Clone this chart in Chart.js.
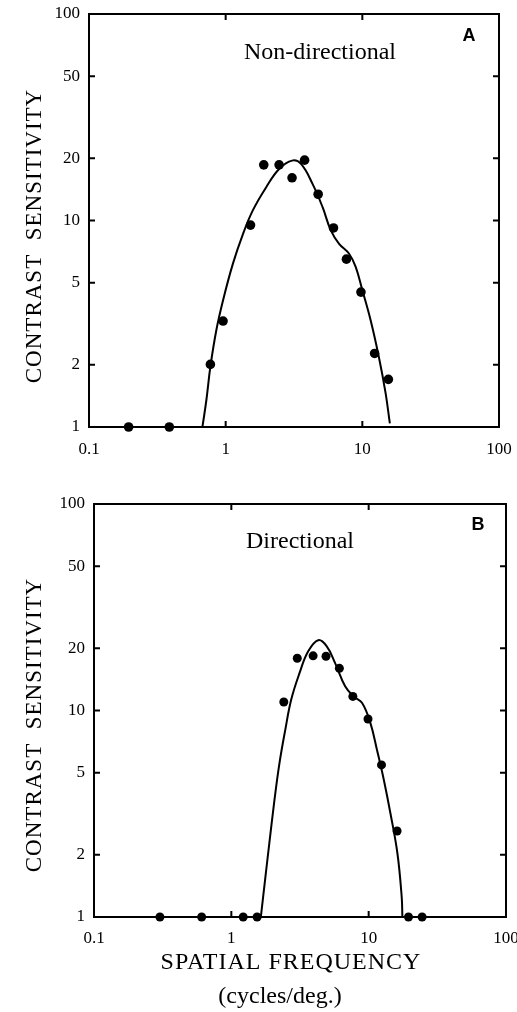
<!DOCTYPE html>
<html>
<head>
<meta charset="utf-8">
<script src="https://cdn.jsdelivr.net/npm/chart.js@4"></script>
<style>
  body { margin: 0; background: #fff; overflow: hidden; }
  #wrap { position: relative; width: 517px; height: 1012px; overflow: hidden; }
  canvas { position: absolute; left: 0; }
</style>
</head>
<body>
<div id="wrap">
  <canvas id="chartA" width="560" height="462" style="top:0"></canvas>
  <canvas id="chartB" width="560" height="532" style="top:480px"></canvas>
</div>
<script>
// tick values
const xTicks = [0.1, 1, 10, 100];
const yTicks = [1, 2, 5, 10, 20, 50, 100];

// A: non-directional, measured points
const nondirFreq = [0.195, 0.387, 0.773, 0.957, 1.52, 1.90, 2.46, 3.06, 3.78, 4.75, 6.15, 7.65, 9.77, 12.3, 15.5];
const nondirSens = [1, 1, 2.01, 3.26, 9.5, 18.6, 18.6, 16.1, 19.6, 13.4, 9.2, 6.5, 4.5, 2.27, 1.70];
// A: fitted curve
const nondirFitFreq = [0.676, 0.723, 0.773, 0.855, 0.957, 1.13, 1.34, 1.58, 1.98, 2.47, 3.06, 3.56, 4.33, 5.12, 5.88, 6.76, 8.00, 8.94, 10.0, 11.5, 13.2, 14.8, 15.9];
const nondirFitSens = [1, 1.355, 1.96, 2.95, 4.11, 6.18, 8.62, 11.2, 14.5, 17.8, 19.5, 18.8, 15.0, 11.6, 8.95, 7.71, 6.90, 5.96, 4.60, 3.29, 2.19, 1.46, 1.04];

// B: directional, measured points
const dirFreq = [0.302, 0.608, 1.22, 1.54, 2.41, 3.02, 3.94, 4.89, 6.12, 7.67, 9.89, 12.4, 16.1, 19.5, 24.5];
const dirSens = [1, 1, 1, 1, 11.0, 17.9, 18.4, 18.3, 16.0, 11.7, 9.1, 5.45, 2.61, 1, 1];
// B: fitted curve
const dirFitFreq = [1.64, 1.76, 1.89, 2.06, 2.24, 2.47, 2.73, 3.14, 3.62, 4.29, 4.94, 5.69, 6.74, 7.76, 8.94, 10.3, 11.5, 12.9, 14.4, 16.2, 17.4, 17.6];
const dirFitSens = [1, 1.51, 2.27, 3.68, 5.55, 8.06, 11.3, 15.2, 19.3, 21.9, 20.5, 17.0, 13.1, 11.7, 10.9, 8.69, 6.44, 4.61, 3.18, 2.03, 1.25, 1];

const yTitle = 'CONTRAST  SENSITIVITY';
const xTitle = ['SPATIAL FREQUENCY', '(cycles/deg.)'];

const serif = '"Liberation Serif", "DejaVu Serif", serif';

function pairs(xs, ys) {
  return xs.map((x, i) => ({ x: x, y: ys[i] }));
}

// frame with inward ticks plus the labels
const framePlugin = {
  id: 'frame',
  afterDraw(chart, args, opts) {
    const ctx = chart.ctx;
    const a = chart.chartArea;
    const xs = chart.scales.x, ys = chart.scales.y;
    ctx.save();
    ctx.strokeStyle = '#000';
    ctx.lineWidth = 2;
    ctx.strokeRect(a.left, a.top, a.right - a.left, a.bottom - a.top);
    ctx.beginPath();
    xTicks.slice(1, -1).forEach(v => {
      const px = xs.getPixelForValue(v);
      ctx.moveTo(px, a.bottom); ctx.lineTo(px, a.bottom - 6);
      ctx.moveTo(px, a.top); ctx.lineTo(px, a.top + 6);
    });
    yTicks.slice(1, -1).forEach(v => {
      const py = ys.getPixelForValue(v);
      ctx.moveTo(a.left, py); ctx.lineTo(a.left + 6, py);
      ctx.moveTo(a.right, py); ctx.lineTo(a.right - 6, py);
    });
    ctx.stroke();

    ctx.fillStyle = '#000';
    ctx.textAlign = 'center';
    ctx.textBaseline = 'middle';
    ctx.font = 'bold 18px "Liberation Sans", Arial, sans-serif';
    ctx.fillText(opts.letter, opts.letterPos[0], opts.letterPos[1]);
    ctx.font = '24px ' + serif;
    ctx.fillText(opts.label, opts.labelPos[0], opts.labelPos[1]);

    ctx.save();
    ctx.translate(opts.yTitlePos[0], opts.yTitlePos[1]);
    ctx.rotate(-Math.PI / 2);
    ctx.font = '23px ' + serif;
    ctx.letterSpacing = '1px';
    ctx.fillText(yTitle, 0, 0);
    ctx.restore();

    if (opts.xTitlePos) {
      ctx.font = '24px ' + serif;
      ctx.letterSpacing = '1px';
      ctx.fillText(xTitle[0], opts.xTitlePos[0], opts.xTitlePos[1]);
      ctx.letterSpacing = '0px';
      ctx.fillText(xTitle[1], opts.xTitlePos[0] - 11, opts.xTitlePos[1] + 34);
    }
    ctx.restore();
  }
};

function makePanel(id, pts, fit, g) {
  new Chart(document.getElementById(id), {
    type: 'scatter',
    data: {
      datasets: [
        {
          data: fit,
          showLine: true,
          borderColor: '#000',
          borderWidth: 2,
          pointRadius: 0,
          tension: 0.4,
          fill: false
        },
        {
          data: pts,
          pointRadius: g.dot,
          pointBackgroundColor: '#000',
          pointBorderColor: '#000',
          pointBorderWidth: 0,
          clip: false
        }
      ]
    },
    options: {
      responsive: false,
      animation: false,
      layout: { padding: { top: g.top, right: g.right, left: 0, bottom: 0 } },
      plugins: {
        legend: { display: false },
        tooltip: { enabled: false },
        frame: g.frame
      },
      scales: {
        x: {
          type: 'logarithmic',
          min: 0.1, max: 100,
          grid: { display: false, drawTicks: false },
          border: { display: false },
          afterBuildTicks: s => { s.ticks = xTicks.map(v => ({ value: v })); },
          afterFit: s => { s.height = g.xh; s.paddingLeft = 0; s.paddingRight = 0; },
          ticks: {
            padding: g.xpad,
            color: '#000',
            font: { family: serif, size: 17 },
            maxRotation: 0,
            autoSkip: false,
            callback: v => String(v)
          }
        },
        y: {
          type: 'logarithmic',
          min: 1, max: 100,
          grid: { display: false, drawTicks: false },
          border: { display: false },
          afterBuildTicks: s => { s.ticks = yTicks.map(v => ({ value: v })); },
          afterFit: s => { s.width = g.yw; s.paddingTop = 0; s.paddingBottom = 0; },
          ticks: {
            padding: 9,
            color: '#000',
            font: { family: serif, size: 17 },
            autoSkip: false,
            callback: v => String(v)
          }
        }
      }
    },
    plugins: [framePlugin]
  });
}

makePanel('chartA', pairs(nondirFreq, nondirSens), pairs(nondirFitFreq, nondirFitSens), {
  top: 14, right: 61, yw: 89, xh: 35, xpad: 12, dot: 4.8,
  frame: { letter: 'A', letterPos: [469, 36], label: 'Non-directional', labelPos: [320, 53], yTitlePos: [35, 236] }
});

makePanel('chartB', pairs(dirFreq, dirSens), pairs(dirFitFreq, dirFitSens), {
  top: 24, right: 54, yw: 94, xh: 95, xpad: 11, dot: 4.5,
  frame: { letter: 'B', letterPos: [478, 45], label: 'Directional', labelPos: [300, 62], yTitlePos: [35, 245], xTitlePos: [291, 483] }
});
</script>
</body>
</html>
